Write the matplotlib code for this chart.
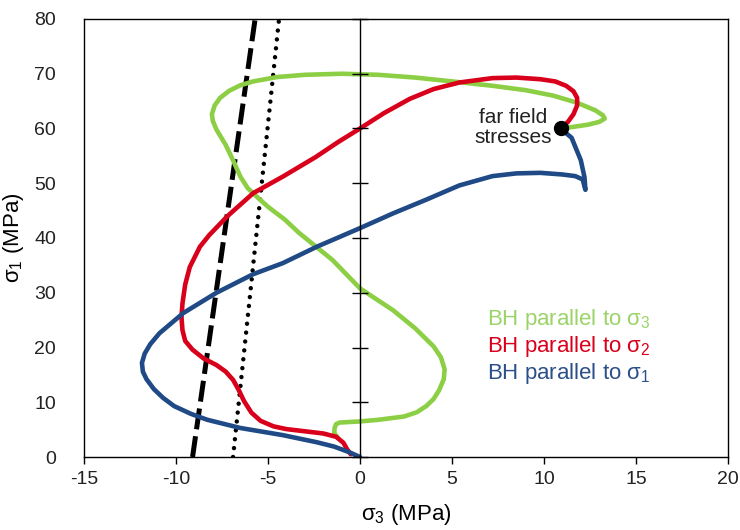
import numpy as np
import matplotlib
matplotlib.use("Agg")
import matplotlib.pyplot as plt

plt.rcParams["font.family"] = ["Liberation Sans", "DejaVu Sans"]
plt.rcParams["mathtext.fontset"] = "custom"
plt.rcParams["mathtext.rm"] = "Liberation Sans"
plt.rcParams["mathtext.it"] = "Liberation Sans"
plt.rcParams["axes.unicode_minus"] = False

# BH parallel to sigma3 (green)
s3_x = [10.9, 11.6, 12.4, 13.0, 13.3, 13.2, 12.8, 12.3, 11.8, 10.5, 9.0, 7.2, 5.0, 3.0, 1.0,
        -1.0, -3.0, -4.5, -5.8, -6.5, -7.1, -7.6, -7.9, -8.05, -8.0, -7.8, -7.3, -6.9,
        -6.5, -6.1, -5.5, -5.0, -4.1, -3.3, -1.5, 0.0, 1.8, 3.0, 4.0, 4.4, 4.6, 4.55,
        4.3, 4.0, 3.6, 3.1, 2.4, 1.0, 0.0, -1.1, -1.3, -1.38, -1.4, -1.2]
s3_y = [60.0, 60.3, 60.7, 61.2, 61.8, 62.4, 63.3, 64.0, 64.7, 66.0, 67.0, 67.8, 68.6, 69.3, 69.8,
        70.0, 69.8, 69.4, 68.6, 67.9, 66.9, 65.6, 64.2, 62.6, 61.4, 59.8, 57.0, 54.2,
        51.2, 49.1, 47.2, 45.7, 43.4, 40.9, 36.0, 30.8, 26.8, 23.5, 20.2, 18.2, 16.0, 14.2,
        12.2, 10.6, 9.3, 8.2, 7.4, 6.8, 6.5, 6.3, 6.0, 5.3, 4.4, 3.5]

# BH parallel to sigma2 (red)
s2_x = [10.9, 11.3, 11.6, 11.8, 11.8, 11.6, 11.2, 10.6, 9.8, 8.5, 7.2, 5.4, 4.0, 2.7, 1.3, 0.0,
        -1.2, -2.4, -4.2, -5.8, -7.2, -8.2, -8.7, -9.25, -9.5, -9.65, -9.7, -9.65, -9.5,
        -9.1, -8.5, -7.8, -7.3, -6.9, -6.6, -6.3, -5.9, -5.4, -4.7, -4.0, -3.0, -2.0,
        -1.3, -0.9, -0.7, -0.5]
s2_y = [60.0, 61.2, 62.6, 64.2, 65.6, 66.8, 67.8, 68.6, 69.0, 69.3, 69.2, 68.4, 67.2, 65.4, 62.8,
        60.0, 57.5, 54.8, 51.2, 48.2, 44.0, 40.5, 38.4, 34.7, 31.5, 28.0, 25.5, 23.2, 21.2,
        19.6, 18.0, 16.8, 15.6, 14.1, 12.3, 10.2, 8.1, 6.6, 5.6, 5.1, 4.7, 4.3,
        3.7, 2.6, 1.4, 0.5]

# BH parallel to sigma1 (blue)
s1_x = [10.9, 11.5, 12.0, 12.2, 12.25, 12.1, 11.7, 11.0, 9.8, 8.5, 7.2, 5.4, 3.6, 1.8, 0.0,
        -2.35, -4.2, -5.8, -7.8, -9.6, -10.9, -11.4, -11.7, -11.85, -11.8, -11.6, -11.2,
        -10.7, -10.1, -9.2, -8.3, -6.5, -4.2, -2.35, -1.4, -0.6, 0.0]
s1_y = [60.0, 58.3, 54.2, 51.1, 48.8, 50.7, 51.3, 51.6, 51.9, 51.8, 51.3, 49.6, 47.0, 44.5, 41.8,
        38.4, 35.4, 33.4, 30.0, 26.3, 22.6, 20.6, 18.9, 17.2, 15.6, 14.2, 12.4,
        10.8, 9.3, 7.9, 6.8, 5.3, 4.0, 2.7, 1.9, 0.9, 0.0]

# failure envelopes
dash_x = [-9.1, -5.7]
dash_y = [0, 80]
dot_x = [-6.9, -4.4]
dot_y = [0, 80]

far_field = (10.9, 60.0)

GREEN = "#8ccf45"
RED = "#d9001b"
BLUE = "#1f4a86"

fig = plt.figure(figsize=(7.4, 5.3), dpi=100)
ax = fig.add_axes([0.1135, 0.1377, 0.8703, 0.8265])

ax.plot(dash_x, dash_y, color="black", lw=3.6, dashes=(4.2, 1.4), solid_capstyle="butt")
ax.plot(dot_x, dot_y, color="black", lw=3.2, dashes=(0.01, 2.0), dash_capstyle="round")

ax.plot(s3_x, s3_y, color=GREEN, lw=3.3, solid_joinstyle="round", solid_capstyle="round")
ax.plot(s2_x, s2_y, color=RED, lw=3.3, solid_joinstyle="round", solid_capstyle="round")
ax.plot(s1_x, s1_y, color=BLUE, lw=3.3, solid_joinstyle="round", solid_capstyle="round")

ax.plot(*far_field, "o", color="black", ms=10, zorder=5)
ax.text(8.3, 60.2, "far field\nstresses", ha="center", va="center", fontsize=15,
        color="#222222", linespacing=1.1)

ax.text(6.9, 24.1, "BH parallel to σ$_3$", color="#9ad468", fontsize=16)
ax.text(6.9, 19.2, "BH parallel to σ$_2$", color=RED, fontsize=16)
ax.text(6.9, 14.3, "BH parallel to σ$_1$", color="#2b4f8a", fontsize=16)

ax.set_xlim(-15, 20)
ax.set_ylim(0, 80)
ax.set_xticks(np.arange(-15, 21, 5))
ax.set_yticks(np.arange(0, 81, 10))
ax.tick_params(axis="x", direction="out", length=5, width=1, labelsize=14, pad=5,
               colors="black")
ax.tick_params(axis="y", length=0, labelsize=14, pad=20)
for lab in ax.get_xticklabels() + ax.get_yticklabels():
    lab.set_color("#222222")
for sp in ax.spines.values():
    sp.set_linewidth(1.0)

ax.set_xlabel("σ$_3$ (MPa)", fontsize=16, labelpad=10)
ax.set_ylabel("σ$_1$ (MPa)", fontsize=16, labelpad=6)

# vertical axis crossing at zero
ax2 = ax.twinx()
ax2.set_ylim(0, 80)
ax2.yaxis.tick_left()
ax2.set_yticks(np.arange(0, 81, 10))
ax2.spines["left"].set_position(("data", 0))
ax2.spines["left"].set_linewidth(1.0)
for side in ["right", "top", "bottom"]:
    ax2.spines[side].set_visible(False)
ax2.tick_params(axis="y", direction="inout", length=12, width=1, labelleft=False,
                labelright=False)

fig.savefig("out.png", dpi=100)
